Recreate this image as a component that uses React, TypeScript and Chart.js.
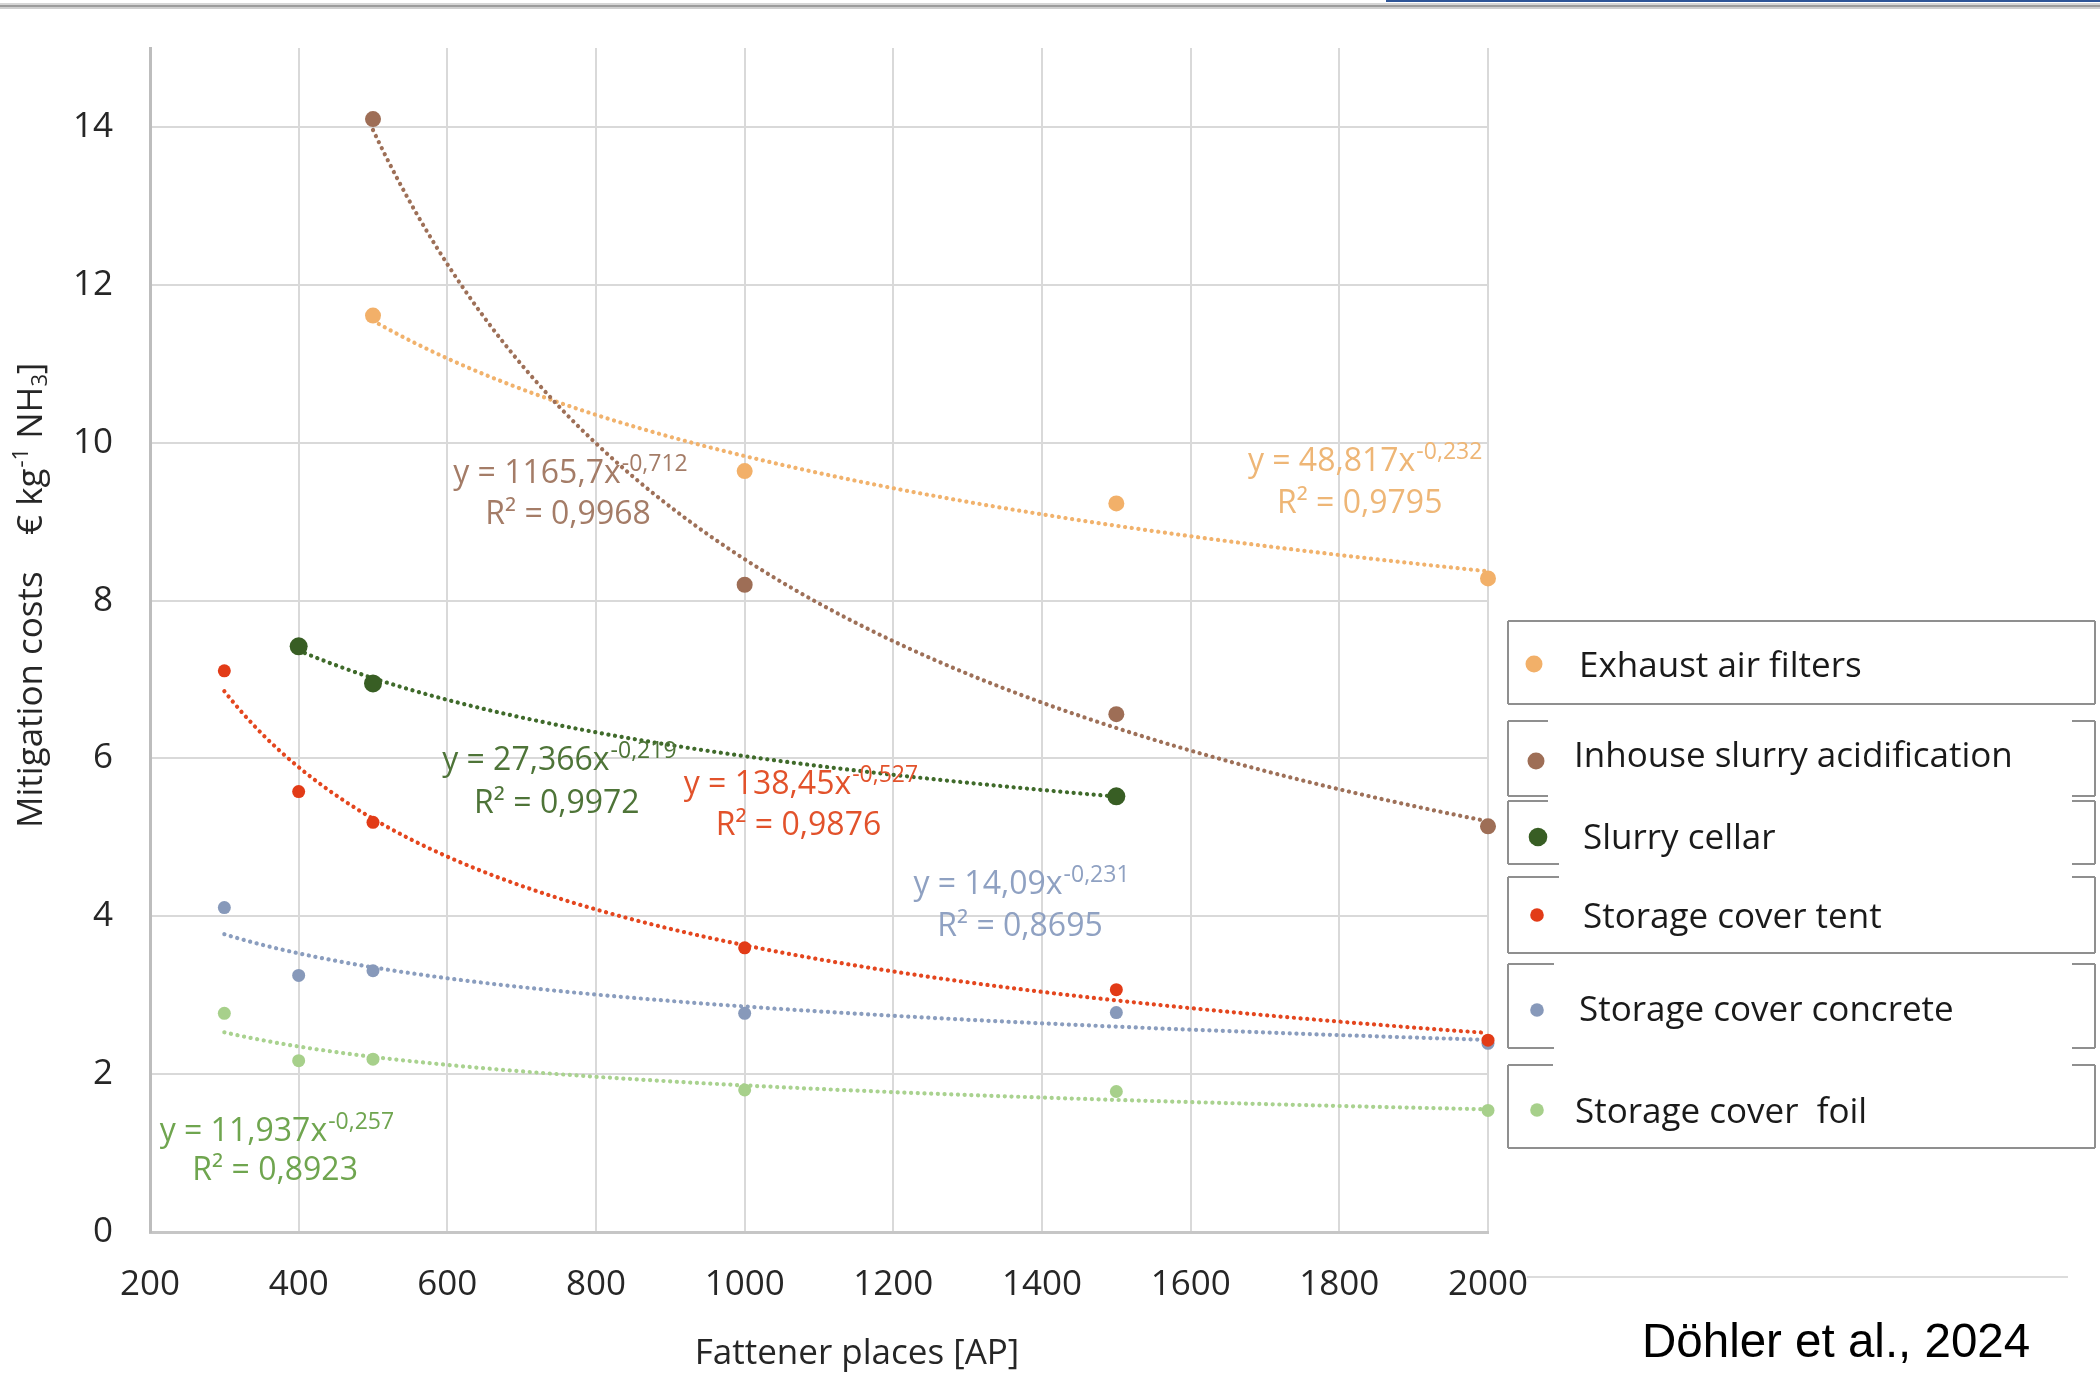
import React, { useEffect, useRef } from "react";
import { Chart, registerables } from "chart.js";

Chart.register(...registerables);

const W = 2100;
const H = 1375;

// ---------- data ----------
const seriesNames = [
  "Exhaust air filters",
  "Inhouse slurry acidification",
  "Slurry cellar",
  "Storage cover tent",
  "Storage cover concrete",
  "Storage cover  foil",
];

const exhaustX = [500, 1000, 1500, 2000];
const exhaustY = [11.61, 9.64, 9.23, 8.28];
const acidX = [500, 1000, 1500, 2000];
const acidY = [14.1, 8.2, 6.56, 5.14];
const cellarX = [400, 500, 1500];
const cellarY = [7.42, 6.95, 5.52];
const tentX = [300, 400, 500, 1000, 1500, 2000];
const tentY = [7.11, 5.58, 5.19, 3.6, 3.07, 2.43];
const concreteX = [300, 400, 500, 1000, 1500, 2000];
const concreteY = [4.11, 3.25, 3.31, 2.77, 2.78, 2.39];
const foilX = [300, 400, 500, 1000, 1500, 2000];
const foilY = [2.77, 2.17, 2.19, 1.8, 1.78, 1.54];

// power trendlines y = a * x^b, as drawn in the picture
// (the foil curve is drawn somewhat below its printed coefficient)
const trendCoef = [48.817, 1165.7, 27.366, 138.45, 14.09, 10.96];
const trendExp = [-0.232, -0.712, -0.219, -0.527, -0.231, -0.257];
const eqMain = ["y = 48,817x", "y = 1165,7x", "y = 27,366x", "y = 138,45x", "y = 14,09x", "y = 11,937x"];
const eqSup = ["-0,232", "-0,712", "-0,219", "-0,527", "-0,231", "-0,257"];
const eqR2 = ["R² = 0,9795", "R² = 0,9968", "R² = 0,9972", "R² = 0,9876", "R² = 0,8695", "R² = 0,8923"];

const xTicks = [200, 400, 600, 800, 1000, 1200, 1400, 1600, 1800, 2000];
const yTicks = [0, 2, 4, 6, 8, 10, 12, 14];

const xTitle = "Fattener places [AP]";
const yTitleMain = "Mitigation costs    € kg";
const yTitleSup = "-1";
const yTitleMid = " NH";
const yTitleSub = "3";
const yTitleEnd = "]";
const sourceText = "Döhler et al., 2024";

// ---------- styles / layout ----------
const markerColors = ["#F2B069", "#9E6E56", "#385E24", "#E23B17", "#8799BA", "#A7D08B"];
const trendColors = ["#F1B26C", "#9E7058", "#3F6A2A", "#E4461E", "#8A9DBE", "#A9D28F"];
const eqColors = ["#EEB676", "#A47C67", "#4E7438", "#E2522B", "#8FA1C2", "#6FA54F"];
const markerRadius = [8, 8, 9, 6.5, 6.5, 6.5];
const legendMarkerRadius = [8.5, 8.5, 9.3, 6.8, 6.8, 6.8];

// equation anchors in data coordinates: [x1, y1, x2, y2]
const eqAnchor = [
  [1677, 9.76, 1716, 9.22],
  [608, 9.61, 651, 9.08],
  [593, 5.97, 636, 5.42],
  [918, 5.67, 961, 5.14],
  [1227, 4.4, 1259, 3.87],
  [213, 1.27, 257, 0.77],
];

const LEG_L = 1508;
const LEG_R = 2095;
const legendBoxes = [
  { top: 621, bottom: 704, topCut: 0, bottomCut: 0, mx: 1534, my: 664, tx: 1579, ty: 667 },
  { top: 721, bottom: 796, topCut: 1548, bottomCut: 1548, mx: 1536, my: 761, tx: 1574, ty: 757 },
  { top: 801, bottom: 864, topCut: 1548, bottomCut: 1559, mx: 1538, my: 837, tx: 1583, ty: 839 },
  { top: 877, bottom: 953, topCut: 1559, bottomCut: 0, mx: 1537, my: 915, tx: 1583, ty: 918 },
  { top: 964, bottom: 1048, topCut: 1554, bottomCut: 1554, mx: 1537, my: 1010, tx: 1579, ty: 1011 },
  { top: 1065, bottom: 1148, topCut: 1553, bottomCut: 0, mx: 1537, my: 1110, tx: 1575, ty: 1113 },
];
const CUT_RIGHT = 2072;

const FONT = "'Open Sans', sans-serif";
const TEXT_DARK = "#262626";

const seriesX = [exhaustX, acidX, cellarX, tentX, concreteX, foilX];
const seriesY = [exhaustY, acidY, cellarY, tentY, concreteY, foilY];

const trendPlugin = {
  id: "trendlines",
  beforeDatasetsDraw(chart: any) {
    const ctx = chart.ctx;
    const xs = chart.scales.x;
    const ys = chart.scales.y;
    ctx.save();
    for (let i = 0; i < seriesX.length; i++) {
      const xsArr = seriesX[i];
      const x0 = Math.min(...xsArr);
      const x1 = Math.max(...xsArr);
      const p0 = xs.getPixelForValue(x0);
      const p1 = xs.getPixelForValue(x1);
      ctx.beginPath();
      let first = true;
      for (let p = p0; p <= p1 + 0.01; p += 2) {
        const pp = Math.min(p, p1);
        const v = xs.getValueForPixel(pp);
        const y = trendCoef[i] * Math.pow(v, trendExp[i]);
        const py = ys.getPixelForValue(y);
        if (first) {
          ctx.moveTo(pp, py);
          first = false;
        } else ctx.lineTo(pp, py);
      }
      ctx.strokeStyle = trendColors[i];
      ctx.lineWidth = 4.2;
      ctx.lineCap = "round";
      ctx.setLineDash([0.1, 6.6]);
      ctx.stroke();
    }
    ctx.restore();
  },
};

const annotationPlugin = {
  id: "annotations",
  afterDraw(chart: any) {
    const ctx = chart.ctx;
    const xs = chart.scales.x;
    const ys = chart.scales.y;
    ctx.save();
    ctx.setLineDash([]);

    // decorative top rule
    ctx.fillStyle = "#d6d6d6";
    ctx.fillRect(0, 3, W, 2);
    ctx.fillStyle = "#9c9c9c";
    ctx.fillRect(0, 5, W, 2);
    ctx.fillStyle = "#cfcfcf";
    ctx.fillRect(0, 7, W, 2);
    ctx.fillStyle = "#2E5597";
    ctx.fillRect(1386, 0, W - 1386, 2);

    // equations
    for (let i = 0; i < eqMain.length; i++) {
      const [ax, ay, bx, by] = eqAnchor[i];
      ctx.fillStyle = eqColors[i];
      ctx.textBaseline = "middle";
      ctx.textAlign = "left";
      ctx.font = `32px ${FONT}`;
      const x1 = xs.getPixelForValue(ax);
      const y1 = ys.getPixelForValue(ay);
      ctx.fillText(eqMain[i], x1, y1);
      const w = ctx.measureText(eqMain[i]).width;
      ctx.font = `23px ${FONT}`;
      ctx.fillText(eqSup[i], x1 + w + 1, y1 - 9);
      ctx.font = `32px ${FONT}`;
      ctx.fillText(eqR2[i], xs.getPixelForValue(bx), ys.getPixelForValue(by));
    }

    // legend boxes
    ctx.strokeStyle = "#8f8f8f";
    ctx.lineWidth = 2;
    const hline = (y: number, cut: number) => {
      ctx.beginPath();
      if (!cut) {
        ctx.moveTo(LEG_L, y);
        ctx.lineTo(LEG_R, y);
      } else {
        ctx.moveTo(LEG_L, y);
        ctx.lineTo(cut, y);
        ctx.moveTo(CUT_RIGHT, y);
        ctx.lineTo(LEG_R, y);
      }
      ctx.stroke();
    };
    legendBoxes.forEach((b, i) => {
      hline(b.top, b.topCut);
      hline(b.bottom, b.bottomCut);
      ctx.beginPath();
      ctx.moveTo(LEG_L, b.top);
      ctx.lineTo(LEG_L, b.bottom);
      ctx.moveTo(LEG_R, b.top);
      ctx.lineTo(LEG_R, b.bottom);
      ctx.stroke();
      ctx.beginPath();
      ctx.arc(b.mx, b.my, legendMarkerRadius[i], 0, Math.PI * 2);
      ctx.fillStyle = markerColors[i];
      ctx.fill();
      ctx.fillStyle = "#1a1a1a";
      ctx.font = `35px ${FONT}`;
      ctx.textAlign = "left";
      ctx.textBaseline = "middle";
      ctx.fillText(seriesNames[i], b.tx, b.ty);
    });

    // faint line right of the x-axis labels
    ctx.strokeStyle = "#dcdcdc";
    ctx.lineWidth = 2;
    ctx.beginPath();
    ctx.moveTo(1527, 1277);
    ctx.lineTo(2068, 1277);
    ctx.stroke();

    // x-axis title
    ctx.fillStyle = TEXT_DARK;
    ctx.font = `35px ${FONT}`;
    ctx.textAlign = "center";
    ctx.textBaseline = "middle";
    ctx.fillText(xTitle, 857, 1354);

    // y-axis title (rotated, with super/subscript)
    ctx.save();
    ctx.translate(32, 828);
    ctx.rotate(-Math.PI / 2);
    ctx.textAlign = "left";
    ctx.textBaseline = "middle";
    let cx = 0;
    ctx.font = `35px ${FONT}`;
    ctx.fillText(yTitleMain, cx, 0);
    cx += ctx.measureText(yTitleMain).width;
    ctx.font = `22px ${FONT}`;
    ctx.fillText(yTitleSup, cx + 1, -10);
    cx += ctx.measureText(yTitleSup).width + 1;
    ctx.font = `35px ${FONT}`;
    ctx.fillText(yTitleMid, cx, 0);
    cx += ctx.measureText(yTitleMid).width;
    ctx.font = `22px ${FONT}`;
    ctx.fillText(yTitleSub, cx, 9);
    cx += ctx.measureText(yTitleSub).width;
    ctx.font = `35px ${FONT}`;
    ctx.fillText(yTitleEnd, cx, 0);
    ctx.restore();

    // source
    ctx.fillStyle = "#000000";
    ctx.font = `47.5px 'Liberation Sans', Arial, sans-serif`;
    ctx.textAlign = "left";
    ctx.textBaseline = "alphabetic";
    ctx.fillText(sourceText, 1642, 1357);

    ctx.restore();
  },
};

export default function App() {
  const ref = useRef<HTMLCanvasElement>(null);

  useEffect(() => {
    if (!ref.current) return;
    const datasets = seriesNames.map((name, i) => ({
      label: name,
      data: seriesX[i].map((x, j) => ({ x, y: seriesY[i][j] })),
      backgroundColor: markerColors[i],
      borderColor: markerColors[i],
      borderWidth: 0,
      pointRadius: markerRadius[i],
      pointHoverRadius: markerRadius[i],
      showLine: false,
      clip: false as any,
    }));

    const chart = new Chart(ref.current, {
      type: "scatter",
      data: { datasets },
      options: {
        animation: false,
        responsive: false,
        devicePixelRatio: 1,
        layout: { padding: { left: 0, top: 48, right: 612, bottom: 0 } },
        plugins: {
          legend: { display: false },
          tooltip: { enabled: false },
          title: { display: false },
        },
        scales: {
          x: {
            type: "linear",
            min: 200,
            max: 2000,
            afterBuildTicks: (s: any) => {
              s.ticks = xTicks.map((v) => ({ value: v }));
            },
            afterFit: (s: any) => {
              s.height = 143;
              s.paddingLeft = 0;
              s.paddingRight = 0;
              s.paddingTop = 0;
              s.paddingBottom = 0;
            },
            grid: { color: "#d9d9d9", lineWidth: 2, drawTicks: false },
            border: { display: true, color: "#c6c6c6", width: 3 },
            ticks: {
              padding: 32,
              color: TEXT_DARK,
              font: { family: FONT, size: 35 },
              maxRotation: 0,
              autoSkip: false,
              callback: (v: any) => String(v),
            },
          },
          y: {
            type: "linear",
            min: 0,
            max: 15,
            afterBuildTicks: (s: any) => {
              s.ticks = yTicks.map((v) => ({ value: v }));
            },
            afterFit: (s: any) => {
              s.width = 150;
              s.paddingTop = 0;
              s.paddingBottom = 0;
              s.paddingLeft = 0;
              s.paddingRight = 0;
            },
            grid: { color: "#d9d9d9", lineWidth: 2, drawTicks: false },
            border: { display: true, color: "#bdbdbd", width: 3 },
            ticks: {
              padding: 37,
              color: TEXT_DARK,
              font: { family: FONT, size: 35 },
              autoSkip: false,
              callback: (v: any) => String(v),
            },
          },
        },
      },
      plugins: [trendPlugin, annotationPlugin],
    } as any);

    return () => chart.destroy();
  }, []);

  return (
    <div
      style={{
        position: "absolute",
        left: 0,
        top: 0,
        width: W,
        height: H,
        background: "#ffffff",
        overflow: "hidden",
      }}
    >
      <canvas ref={ref} width={W} height={H} style={{ width: W, height: H, display: "block" }} />
    </div>
  );
}
